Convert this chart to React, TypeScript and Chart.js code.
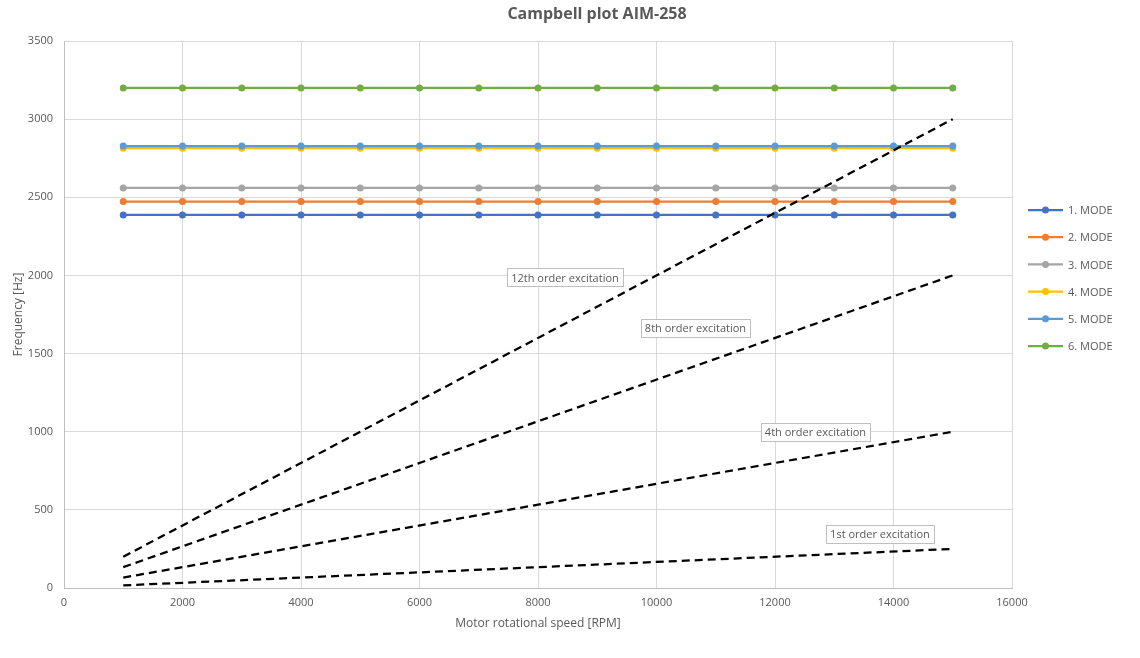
import React, { useEffect, useRef } from "react";
import { Chart, registerables } from "chart.js";

Chart.register(...registerables);

const chartTitle = "Campbell plot AIM-258";
const xAxisTitle = "Motor rotational speed [RPM]";
const yAxisTitle = "Frequency [Hz]";

const rpm = [1000, 2000, 3000, 4000, 5000, 6000, 7000, 8000, 9000, 10000, 11000, 12000, 13000, 14000, 15000];
const modeNames = ["1. MODE", "2. MODE", "3. MODE", "4. MODE", "5. MODE", "6. MODE"];
const modeFreq = [2387, 2473, 2560, 2814, 2828, 3200];
const modeColors = ["#4472C4", "#ED7D31", "#A5A5A5", "#FFC000", "#5B9BD5", "#70AD47"];

const excitationRpm = [1000, 15000];
const excitation1 = [16.7, 250];
const excitation4 = [66.7, 1000];
const excitation8 = [133.3, 2000];
const excitation12 = [200, 3000];

const excitationLabels = ["12th order excitation", "8th order excitation", "4th order excitation", "1st order excitation"];
const labelAnchorX = [8456, 10658, 12683, 13772];
const labelAnchorY = [1987, 1664, 998, 345];

const FONT = "'Open Sans', 'Liberation Sans', sans-serif";
const TEXT = "#595959";

const overlayPlugin = {
  id: "overlay",
  afterDraw(chart: any) {
    const { ctx, chartArea, scales } = chart;
    ctx.save();
    ctx.fillStyle = TEXT;
    ctx.font = `bold 16px ${FONT}`;
    ctx.textAlign = "center";
    ctx.textBaseline = "middle";
    ctx.fillText(chartTitle, 597, 14);

    ctx.font = `11px ${FONT}`;
    excitationLabels.forEach((t, i) => {
      const cx = scales.x.getPixelForValue(labelAnchorX[i]);
      const cy = scales.y.getPixelForValue(labelAnchorY[i]);
      const w = Math.round(ctx.measureText(t).width + 8);
      const h = 18;
      const left = Math.round(cx - w / 2) + 0.5;
      const top = Math.round(cy - h / 2) + 0.5;
      ctx.fillStyle = "#ffffff";
      ctx.fillRect(left, top, w, h);
      ctx.strokeStyle = "#bfbfbf";
      ctx.lineWidth = 1;
      ctx.strokeRect(left, top, w, h);
      ctx.fillStyle = TEXT;
      ctx.textAlign = "center";
      ctx.fillText(t, cx, cy + 1);
    });

    const lx = chartArea.right + 16;
    const ly0 = 210;
    const step = 27.2;
    modeNames.forEach((name, i) => {
      const y = ly0 + i * step;
      ctx.strokeStyle = modeColors[i];
      ctx.lineWidth = 2.25;
      ctx.beginPath();
      ctx.moveTo(lx, y);
      ctx.lineTo(lx + 35, y);
      ctx.stroke();
      ctx.fillStyle = modeColors[i];
      ctx.beginPath();
      ctx.arc(lx + 17.5, y, 3.5, 0, Math.PI * 2);
      ctx.fill();
      ctx.fillStyle = TEXT;
      ctx.textAlign = "left";
      ctx.font = `11px ${FONT}`;
      ctx.fillText(name, lx + 40, y + 1);
    });
    ctx.restore();
  },
};

export default function App() {
  const ref = useRef<HTMLCanvasElement>(null);
  useEffect(() => {
    if (!ref.current) return;
    const modeSets = modeNames.map((name, i) => ({
      label: name,
      data: rpm.map((r) => ({ x: r, y: modeFreq[i] })),
      borderColor: modeColors[i],
      backgroundColor: modeColors[i],
      borderWidth: 2.25,
      pointRadius: 3.5,
      pointBorderWidth: 0,
      showLine: true,
      order: 10 - i,
    }));
    const exc = [excitation1, excitation4, excitation8, excitation12];
    const excSets = exc.map((vals, i) => ({
      label: "exc" + i,
      data: excitationRpm.map((r, j) => ({ x: r, y: vals[j] })),
      borderColor: "#000000",
      backgroundColor: "#000000",
      borderWidth: 2.25,
      borderDash: [8, 5],
      pointRadius: 0,
      showLine: true,
      order: 0,
    }));
    const chart = new Chart(ref.current, {
      type: "scatter",
      data: { datasets: [...modeSets, ...excSets] as any },
      options: {
        animation: false,
        responsive: false,
        layout: { padding: { left: 0, top: 41, right: 128, bottom: 0 } },
        plugins: { legend: { display: false }, title: { display: false }, tooltip: { enabled: false } },
        scales: {
          x: {
            type: "linear",
            min: 0,
            max: 16000,
            afterFit: (s: any) => { s.height = 70; },
            ticks: { stepSize: 2000, color: TEXT, font: { family: FONT, size: 11 }, padding: 8, maxRotation: 0, callback: (v: any) => String(v) },
            grid: { color: "#d9d9d9", drawTicks: false },
            border: { color: "#bfbfbf" },
            title: { display: true, text: xAxisTitle, color: TEXT, font: { family: FONT, size: 12 }, padding: { top: 0, bottom: 27 } },
          },
          y: {
            type: "linear",
            min: 0,
            max: 3500,
            afterFit: (s: any) => { s.width = 64; },
            ticks: { stepSize: 500, color: TEXT, font: { family: FONT, size: 11 }, padding: 11, callback: (v: any) => String(v) },
            grid: { color: "#d9d9d9", drawTicks: false },
            border: { color: "#bfbfbf" },
            title: { display: true, text: yAxisTitle, color: TEXT, font: { family: FONT, size: 12 }, padding: { top: 11, bottom: 0 } },
          },
        },
      },
      plugins: [overlayPlugin],
    });
    return () => chart.destroy();
  }, []);
  return (
    <div style={{ position: "absolute", left: 0, top: 0, width: 1140, height: 658, background: "#fff" }}>
      <canvas ref={ref} width={1140} height={658} style={{ width: 1140, height: 658 }} />
    </div>
  );
}
